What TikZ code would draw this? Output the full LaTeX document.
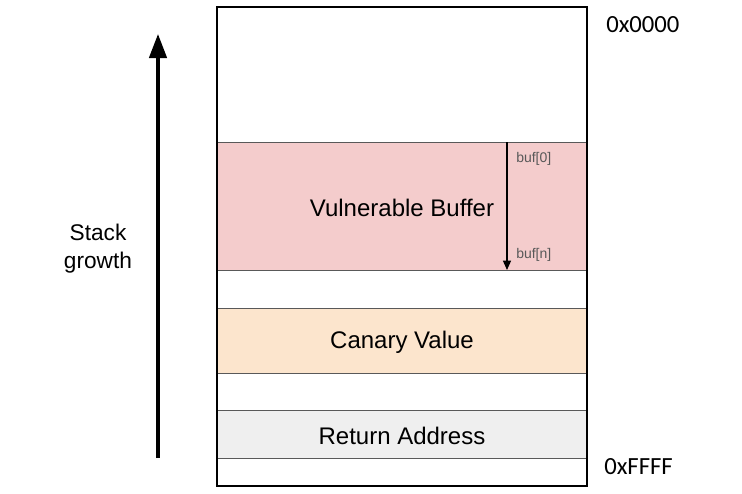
\documentclass[tikz,border=0pt]{standalone}
\usepackage{fontspec}
\setmainfont{Liberation Sans}
\newfontfamily\addrfont{Carlito}
\usetikzlibrary{arrows.meta}
\definecolor{bufpink}{HTML}{F4CCCC}
\definecolor{canarypeach}{HTML}{FCE5CD}
\definecolor{retgray}{HTML}{EFEFEF}
\definecolor{linegray}{HTML}{595959}
\begin{document}
\begin{tikzpicture}
    [x=0.75pt, y=-0.75pt,
    slot/.style = {rectangle, draw=linegray, line width=0.75pt,
                   inner sep=0pt, minimum width=276.75pt,
                   font=\fontsize{18}{21}\selectfont},
    addr/.style = {anchor=west, inner sep=0pt, font=\addrfont\fontsize{18.5}{21}\selectfont},
    idx/.style = {anchor=west, inner sep=0pt, text=linegray, font=\fontsize{10.5}{12}\selectfont}]
    \useasboundingbox (0,0) rectangle (742,493);
    % Stack frame slots
    \node[slot, minimum height=101.25pt] (top) at (401.5,74.5) {};
    \node[slot, fill=bufpink, minimum height=96pt] (buf) at (401.5,206) {};
    \node[slot, minimum height=28.5pt] (gapa) at (401.5,289) {};
    \node[slot, fill=canarypeach, minimum height=48.75pt] (canary) at (401.5,340.5) {};
    \node[slot, minimum height=27.75pt] (gapb) at (401.5,391.5) {};
    \node[slot, fill=retgray, minimum height=36pt] (ret) at (401.5,434) {};
    \node[slot, minimum height=20.25pt] (bottom) at (401.5,471.5) {};
    % Slot labels
    \node[font=\fontsize{18}{21}\selectfont] (buftext) at (402,208) {Vulnerable Buffer};
    \node[font=\fontsize{18}{21}\selectfont] (canarytext) at (402,342) {Canary Value};
    \node[font=\fontsize{18}{21}\selectfont] (rettext) at (402,435.5) {Return Address};
    % Outer frame
    \draw[line width=1.5pt] (top.north west) rectangle (bottom.south east);
    % Buffer index arrow
    \coordinate (bufstart) at (507,142);
    \coordinate (bufend) at (507,270);
    \draw[line width=0.9pt, -{Triangle[length=7pt, width=6pt]}] (bufstart) -- (bufend);
    \node[idx] (bufzero) at (516,159) {buf[0]};
    \node[idx] (bufn) at (516,255) {buf[n]};
    % Addresses
    \node[addr] (lowaddr) at (606,25) {0x0000};
    \node[addr] (highaddr) at (604,467) {0xFFFF};
    % Stack growth
    \coordinate (growbase) at (158,458);
    \coordinate (growtip) at (158,34);
    \draw[line width=2.6pt, -{Triangle[length=18pt, width=13pt]}] (growbase) -- (growtip);
    \node[align=center, font=\fontsize{17}{21}\selectfont] (growth) at (98,249) {Stack\\growth};
\end{tikzpicture}
\end{document}
